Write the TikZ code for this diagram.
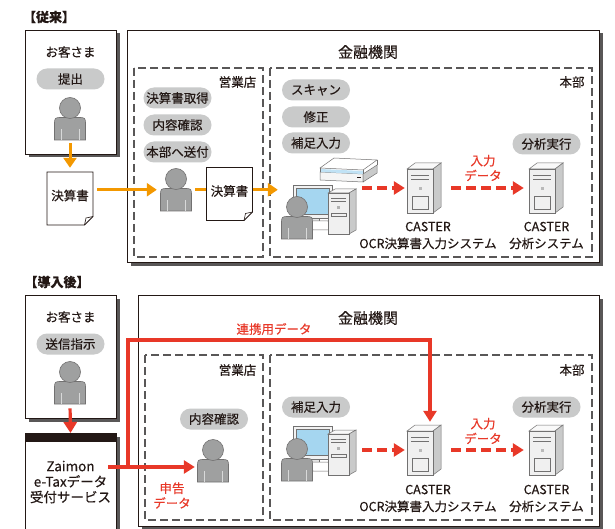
\documentclass[tikz,border=0pt]{standalone}
\usepackage{fontspec}
\setmainfont{Noto Sans CJK JP}[FakeBold=0.35]
\usetikzlibrary{arrows.meta,calc,positioning,shadows}

\definecolor{ink}{HTML}{231815}
\definecolor{orangeflow}{HTML}{F39800}
\definecolor{datared}{HTML}{E83828}
\definecolor{pillgray}{HTML}{C9CACA}
\definecolor{bodygray}{HTML}{9FA0A0}
\definecolor{edgegray}{HTML}{727171}
\definecolor{boxshadow}{HTML}{595757}
\definecolor{screenblue}{HTML}{A5D6F0}

\begin{document}
\begin{tikzpicture}[x=1pt, y=-1pt, text=ink, font=\fontsize{12}{14}\selectfont,
  frame/.style={draw=ink, line width=0.8pt, fill=white,
    drop shadow={shadow xshift=3.5pt, shadow yshift=-3.5pt, fill=boxshadow, opacity=1}},
  area/.style={draw=boxshadow, line width=1.2pt, dash pattern=on 8pt off 4pt},
  task/.style={fill=pillgray, rounded corners=10.5pt, minimum width=68pt, minimum height=21pt, inner sep=0pt,
    font=\fontsize{12.5}{15}\selectfont},
  txt/.style={font=\fontsize{12.5}{17}\selectfont, align=center},
  bigtxt/.style={font=\fontsize{15}{18}\selectfont},
  heading/.style={font=\fontsize{13}{16}\selectfont\bfseries},
  redtxt/.style={font=\fontsize{12.5}{15}\selectfont, align=center, text=datared},
  handover/.style={orangeflow, line width=3pt, -{Triangle[length=10pt, width=13pt]}},
  datafeed/.style={datared, line width=3.2pt, -{Triangle[length=11pt, width=13pt]}},
  datadash/.style={datafeed, dash pattern=on 10pt off 5pt},
  person/.pic={
    \filldraw[fill=bodygray, draw=edgegray, line width=0.6pt]
      (-15.5,32) -- (-15.5,17) .. controls (-15.5,9.5) .. (-8,9.5) -- (8,9.5)
      .. controls (15.5,9.5) .. (15.5,17) -- (15.5,32) -- cycle;
    \draw[white!60!bodygray, line width=0.6pt] (-9,21) -- (-9,32) (9,21) -- (9,32);
    \filldraw[fill=bodygray, draw=edgegray, line width=0.6pt] (0,0) circle[radius=10.5];
    \node[inner sep=0pt, minimum width=31pt, minimum height=43pt] (-box) at (0,10.75) {};
  },
  sheet/.pic={
    \filldraw[fill=white, draw=ink, line width=0.8pt]
      (-23,-26.5) -- (23,-26.5) -- (23,18) -- (14.5,26.5) -- (-23,26.5) -- cycle;
    \draw[ink, line width=0.6pt] (14.5,26.5) -- (16,19.5) -- (23,18);
    \node[inner sep=0pt, minimum width=46pt, minimum height=53pt] (-box) at (0,0) {};
    \node[font=\fontsize{12.5}{15}\selectfont] (-text) at (0,-3) {決算書};
  },
  server/.pic={
    \filldraw[fill=gray!5, draw=edgegray, line width=0.5pt] (-17,-19) -- (-9,-25) -- (17,-25) -- (9,-19) -- cycle;
    \filldraw[fill=pillgray, draw=edgegray, line width=0.5pt] (9,-19) -- (17,-25) -- (17,19) -- (9,25) -- cycle;
    \filldraw[fill=gray!12, draw=edgegray, line width=0.5pt] (-17,-19) rectangle (9,25);
    \draw[edgegray, line width=0.5pt] (-13,-13) -- (5,-13) (-13,-9) -- (5,-9) (-12,8) rectangle (4,21);
    \fill[gray!55] (-5.5,-1) rectangle (-2.5,2);
    \node[inner sep=0pt, minimum width=34pt, minimum height=50pt] (-box) at (0,0) {};
  },
  computer/.pic={
    % monitor, stand, keyboard
    \filldraw[fill=gray!10, draw=edgegray, line width=0.5pt] (-32,-26) rectangle (7,7);
    \filldraw[fill=screenblue, draw=edgegray, line width=0.4pt] (-29,-23) rectangle (4,3);
    \filldraw[fill=gray!20, draw=edgegray, line width=0.5pt] (-14,7) rectangle (-6,10);
    \filldraw[fill=white, draw=edgegray, line width=0.5pt] (-16,10) -- (3,10) -- (7,19) -- (-12,19) -- cycle;
    % tower
    \filldraw[fill=gray!5, draw=edgegray, line width=0.5pt] (3,-18) -- (10,-22) -- (31,-22) -- (24,-18) -- cycle;
    \filldraw[fill=pillgray, draw=edgegray, line width=0.5pt] (24,-18) -- (31,-22) -- (31,19) -- (24,23) -- cycle;
    \filldraw[fill=gray!12, draw=edgegray, line width=0.5pt] (3,-18) rectangle (24,23);
    \draw[edgegray, line width=0.4pt] (6,-13) -- (21,-13) (6,-10) -- (21,-10) (6,2) rectangle (21,5);
    \fill[gray!60] (12,-5) rectangle (15,-2);
    \node[inner sep=0pt, minimum width=63pt, minimum height=49pt] (-box) at (-0.5,-1.5) {};
  },
  scanner/.pic={
    \filldraw[fill=gray!8, draw=edgegray, line width=0.5pt] (-28,1) -- (15,3) -- (15,11) -- (-28,9) -- cycle;
    \filldraw[fill=pillgray, draw=edgegray, line width=0.5pt] (15,3) -- (29,-6) -- (29,2) -- (15,11) -- cycle;
    \fill[screenblue!70] (-28,1) -- (15,3) -- (15,0) -- (-28,-2) -- cycle;
    \filldraw[fill=white, draw=edgegray, line width=0.5pt] (-28,-3) -- (-14,-13) -- (29,-11) -- (15,-1) -- cycle;
    \draw[edgegray, line width=0.5pt] (-28,-3) -- (-28,1) (15,-1) -- (15,3) (29,-11) -- (29,-6);
    \fill[ink] (9,6) rectangle (13,7);
    \node[inner sep=0pt, minimum width=57pt, minimum height=24pt] (-box) at (0,-1) {};
  },
]
\useasboundingbox (0,0) rectangle (615,529);

% ---------- before ----------
\node[heading] (before) at (49,17) {【従来】};
\draw[frame] (25,30) rectangle (116,154);
\draw[frame] (127,30) rectangle (599,262);
\draw[area] (134,68) rectangle (263,257);
\draw[area] (270,68) rectangle (592,257);

\node[txt] (client1name) at (70.5,52) {お客さま};
\node[task] (submit) at (70.5,79) {提出};
\pic (client1) at (70,108) {person};
\pic (sheet1) at (70,198.5) {sheet};

\node[bigtxt] (bank1) at (368,52) {金融機関};
\node[txt] (branch1) at (237.5,82) {営業店};
\node[txt] (hq1) at (572,82) {本部};

\node[task] (collect) at (177.5,98) {決算書取得};
\node[task] (check1) at (177.5,125) {内容確認};
\node[task] (forward) at (177.5,152) {本部へ送付};
\pic (staff1) at (176,179) {person};
\pic (sheet2) at (229.5,194) {sheet};

\node[task] (scan) at (316,90) {スキャン};
\node[task] (fix) at (316,117) {修正};
\node[task] (supp1) at (316,143) {補足入力};
\node[task] (run1) at (546.5,144) {分析実行};
\pic (scan1) at (348,171) {scanner};
\pic (pc1) at (325,211) {computer};
\pic (staff2) at (297,207) {person};
\pic (ocr1) at (424,188) {server};
\pic (ana1) at (546,188) {server};
\node[txt] (ocr1name) at (428,235.5) {CASTER\\OCR決算書入力システム};
\node[txt] (ana1name) at (546.5,235.5) {CASTER\\分析システム};
\node[redtxt] (input1) at (483,168) {入力\\データ};

\draw[handover, shorten <=3pt, shorten >=4pt] (client1-box.south) -- (sheet1-box.north);
\draw[handover, shorten <=4pt, shorten >=3.5pt] (sheet1-box.east |- staff1-box.west) -- (staff1-box.west);
\draw[orangeflow, line width=3pt, shorten <=3.5pt] (staff1-box.east) -- (sheet2-box.west |- staff1-box.east);
\draw[handover, shorten >=3.5pt] (sheet2-box.east |- staff1-box.east) -- (staff2-box.west |- staff1-box.east);
\draw[datadash, shorten <=6pt, shorten >=2pt] (pc1-box.east |- ocr1-box.west) -- (ocr1-box.west);
\draw[datadash, shorten <=10pt, shorten >=5pt] (ocr1-box.east) -- (ana1-box.west);

% ---------- after ----------
\node[heading] (after) at (57,282) {【導入後】};
\draw[frame] (25,295) rectangle (116,418);
\node[frame, minimum width=91pt, minimum height=100pt, inner sep=0pt, anchor=north] (zaimon) at (70.5,433) {};
\fill[ink] (zaimon.north west) rectangle ($(zaimon.north east)+(0,9)$);
\node[txt, font=\fontsize{13.5}{15.5}\selectfont] (zaimontext) at (70.5,482) {Zaimon\\e-Taxデータ\\受付サービス};
\draw[frame] (138,295) rectangle (599,526);
\draw[area] (145,355) rectangle (263,520);
\draw[area] (270,355) rectangle (592,520);

\node[txt] (client2name) at (70.5,317) {お客さま};
\node[task] (send) at (70.5,344) {送信指示};
\pic (client2) at (70,372) {person};

\node[bigtxt] (bank2) at (368,318) {金融機関};
\node[txt] (branch2) at (237.5,370) {営業店};
\node[txt] (hq2) at (572,370) {本部};

\node[task] (check2) at (214,419) {内容確認};
\pic (staff3) at (213,450) {person};
\node[task] (supp2) at (316,407) {補足入力};
\node[task] (run2) at (546.5,407) {分析実行};
\pic (pc2) at (325,452) {computer};
\pic (staff4) at (297,449) {person};
\pic (ocr2) at (424,450) {server};
\pic (ana2) at (546,450) {server};
\node[txt] (ocr2name) at (428,498.5) {CASTER\\OCR決算書入力システム};
\node[txt] (ana2name) at (546.5,498.5) {CASTER\\分析システム};
\node[redtxt] (input2) at (483,431) {入力\\データ};
\node[redtxt] (linkdata) at (274,329) {連携用データ};
\node[redtxt] (taxdata) at (172,495.5) {申告\\データ};

\coordinate (taxout) at (108,467);
\coordinate (split) at (128,467);
\coordinate (bend) at (128,340);
\draw[datafeed, shorten <=4pt] (client2-box.south) -- (zaimon.north);
\draw[datafeed, shorten >=2.5pt] (taxout) -- (taxout -| staff3-box.west);
\draw[datafeed, shorten >=3pt] (split) -- (bend) -| ([xshift=6pt]ocr2-box.north);
\draw[datadash, shorten <=6pt, shorten >=2pt] (pc2-box.east |- ocr2-box.west) -- (ocr2-box.west);
\draw[datadash, shorten <=10pt, shorten >=5pt] (ocr2-box.east) -- (ana2-box.west);
\end{tikzpicture}
\end{document}
